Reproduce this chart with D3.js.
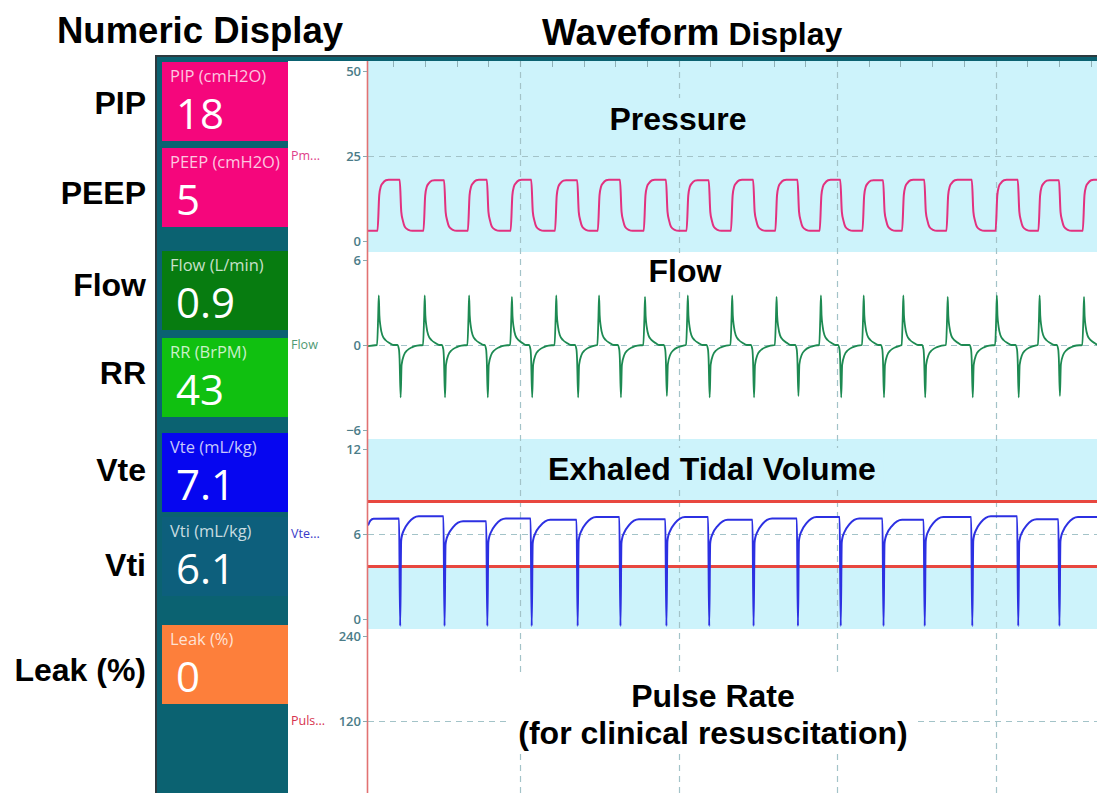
<!DOCTYPE html>
<html><head><meta charset="utf-8">
<script src="https://cdn.jsdelivr.net/npm/d3@7"></script>
<style>
body{margin:0;background:#fff;}
svg{display:block;}
</style>
</head><body>
<svg id="c" width="1097" height="793"></svg>
<script>
// ---------------- DATA ----------------
const sideLabels   = ["PIP","PEEP","Flow","RR","Vte","Vti","Leak (%)"];
const numericNames = ["PIP (cmH2O)","PEEP (cmH2O)","Flow (L/min)","RR (BrPM)","Vte (mL/kg)","Vti (mL/kg)","Leak (%)"];
const numericValues= ["18","5","0.9","43","7.1","6.1","0"];
const numericColors= ["#f5067c","#f5067c","#077c10","#10c010","#0606f0","#0d5f7c","#fd7f3b"];

const trackNames   = ["Pm...","Flow","Vte...","Puls..."];
const trackNameColors = ["#e0408a","#4f9a74","#3a3ac8","#d6334e"];
const trackTitles  = [["Pressure"],["Flow"],["Exhaled Tidal Volume"],["Pulse Rate","(for clinical resuscitation)"]];

const pressureTicks = [0,25,50];
const flowTicks     = [-6,0,6];
const volumeTicks   = [0,6,12];
const pulseTicks    = [120,240];
const gridValues    = [25,0,6,120];        // dashed horizontal reference per track

const timeMajorTicks = [1,2,3,4];           // seconds (dashed verticals)
const timeMinorTicks = [0.2,0.4,0.6,0.8,1.0,1.2,1.4,1.6,1.8,2.0,2.2,2.4,2.6,2.8,3.0,3.2,3.4,3.6,3.8,4.0,4.2,4.4,4.6];

// breath timing (seconds)
const inspStart = [0.10,0.39,0.67,0.94,1.22,1.49,1.78,2.05,2.33,2.61,2.89,3.16,3.41,3.69,4.00,4.27,4.55];
const expStart  = [0.24,0.52,0.79,1.07,1.36,1.63,1.92,2.19,2.47,2.75,3.02,3.29,3.55,3.85,4.14,4.40];

// pressure (cmH2O)
const peepBase  = 3;
const pipPeaks  = [18,17.9,18,18,17.9,18,18,17.9,18,18,18,17.9,18,18,18,17.9,18];
const pressureRise = [[0,0],[0.011,0.70],[0.021,0.87],[0.032,0.93],[0.053,0.99],[0.07,1]];
const pressureFall = [[0,1],[0.010,0.37],[0.020,0.20],[0.032,0.08],[0.055,0.02],[0.08,0]];

// flow (L/min)
const flowInspPeaks = [3.5,3.5,3.5,3.4,3.5,3.5,3.4,3.5,3.5,3.4,3.5,3.5,3.5,3.4,3.5,3.5,3.4];
const flowExpPeaks  = [-3.7,-3.7,-3.7,-3.7,-3.7,-3.7,-3.6,-3.7,-3.7,-3.6,-3.7,-3.7,-3.7,-3.7,-3.7,-3.6];
const flowInspShape = [[-0.003,0],[0.004,0.55],[0.008,1],[0.012,0.6],[0.019,0.37],[0.03,0.2],[0.05,0.1],[0.075,0.04],[0.1,0]];
const flowExpShape  = [[-0.015,0],[-0.005,0.08],[-0.001,0.25],[0.006,1],[0.012,0.38],[0.027,0.19],[0.048,0.1],[0.08,0.04],[0.11,0.01]];

// exhaled tidal volume (mL/kg)
const vtePlateaus = [7.1,7.25,6.9,7.1,7.0,7.2,7.05,7.2,7.0,7.1,7.2,7.1,7.0,7.2,7.25,7.05,7.2];
const vteTrough   = -0.5;
const vteRecovery = [[0.009,0.76],[0.014,0.81],[0.025,0.86],[0.057,0.94],[0.088,0.985],[0.12,1]];
const vteLeadIn   = [[0.04,6.6],[0.055,6.95],[0.075,7.08]];
const vteAlarmLimits = [3.7,8.3];

(function(){
// ---------------- LAYOUT ----------------
const W = 1097, H = 793;
const plotL = 368, plotR = 1097, topY = 61;
const trackRanges = [[241,71],[430,260],[619,449],[806,636]];
const bandBounds = [[61,252],[252,439],[439,629],[629,793]];
const bandCyan = "#cdf3fb";
const boxTops = [62,148,251,338,433,517,625];
const boxH = 79;

const svg = d3.select("#c");
const sans = "'Liberation Sans', Arial, Helvetica, sans-serif";
const ui = "'Open Sans', 'Noto Sans', sans-serif";

// monitor frame
svg.append("rect").attr("x",155).attr("y",55).attr("width",W-155).attr("height",H-55).attr("fill","#2c3a3f");
svg.append("rect").attr("x",157).attr("y",57).attr("width",W-157).attr("height",H-57).attr("fill","#0b6271");

// numeric boxes
const boxes = svg.append("g");
numericNames.forEach((nm,i)=>{
  const g = boxes.append("g").attr("transform",`translate(162,${boxTops[i]})`);
  g.append("rect").attr("width",126).attr("height",boxH).attr("fill",numericColors[i]);
  g.append("text").attr("x",8).attr("y",20).attr("font-family",ui).attr("font-size",16.5)
    .attr("fill","#ffffff").attr("fill-opacity",0.78).text(nm);
  g.append("text").attr("x",14).attr("y",67).attr("font-family",ui).attr("font-size",42)
    .attr("fill","#ffffff").text(numericValues[i]);
});

// white waveform area
svg.append("rect").attr("x",288).attr("y",topY).attr("width",W-288).attr("height",H-topY).attr("fill","#ffffff");
svg.append("rect").attr("x",plotL).attr("y",bandBounds[0][0]).attr("width",plotR-plotL).attr("height",bandBounds[0][1]-bandBounds[0][0]).attr("fill",bandCyan);
svg.append("rect").attr("x",plotL).attr("y",bandBounds[2][0]).attr("width",plotR-plotL).attr("height",bandBounds[2][1]-bandBounds[2][0]).attr("fill",bandCyan);

// scales
const x = d3.scaleLinear().domain([0.04,4.64]).range([plotL,plotR]);
const yP = d3.scaleLinear().domain([0,50]).range(trackRanges[0]);
const yF = d3.scaleLinear().domain([-6,6]).range(trackRanges[1]);
const yV = d3.scaleLinear().domain([0,12]).range(trackRanges[2]);
const yR = d3.scaleLinear().domain([0,240]).range(trackRanges[3]);
const yScales = [yP,yF,yV,yR];
const tickSets = [pressureTicks,flowTicks,volumeTicks,pulseTicks];

svg.append("rect").attr("x",plotL).attr("y",yV(vteAlarmLimits[1]))
  .attr("width",plotR-plotL).attr("height",yV(vteAlarmLimits[0])-yV(vteAlarmLimits[1])).attr("fill","#ffffff");

// grid
const grid = svg.append("g").attr("stroke","#a3c3c8").attr("stroke-width",1.2).attr("stroke-dasharray","6,5");
gridValues.forEach((v,i)=>{
  const y = Math.round(yScales[i](v))+0.5;
  grid.append("line").attr("x1",plotL).attr("x2",plotR).attr("y1",y).attr("y2",y);
});
timeMajorTicks.forEach(t=>{
  const xx = Math.round(x(t))+0.5;
  grid.append("line").attr("x1",xx).attr("x2",xx).attr("y1",topY).attr("y2",H);
});
const minor = svg.append("g").attr("stroke","#8fb0b6").attr("stroke-width",1);
timeMinorTicks.forEach(t=>{
  const xx = Math.round(x(t))+0.5;
  minor.append("line").attr("x1",xx).attr("x2",xx).attr("y1",topY).attr("y2",topY+6);
});

vteAlarmLimits.forEach(v=>{
  svg.append("line").attr("x1",plotL).attr("x2",plotR).attr("y1",yV(v)).attr("y2",yV(v))
    .attr("stroke","#e8473f").attr("stroke-width",3);
});

function buildPressure(){
  const pts=[[0.0,peepBase]];
  inspStart.forEach((tr,i)=>{
    const Hh=pipPeaks[i], B=peepBase;
    pressureRise.forEach(([dt,f])=>pts.push([tr+dt,B+f*(Hh-B)]));
    if(expStart[i]!==undefined) pressureFall.forEach(([dt,f])=>pts.push([expStart[i]+dt,B+f*(Hh-B)]));
    else pts.push([4.7,Hh]);
  });
  return pts;
}
function buildFlow(){
  const pts=[[0.0,-0.1]];
  inspStart.forEach((tr,i)=>{
    flowInspShape.forEach(([dt,f])=>pts.push([tr+dt,f*flowInspPeaks[i]]));
    if(expStart[i]!==undefined) flowExpShape.forEach(([dt,f])=>pts.push([expStart[i]+dt,f*flowExpPeaks[i]]));
  });
  pts.push([4.7,0]);
  return pts;
}
function buildVolume(){
  const pts=vteLeadIn.map(d=>d.slice());
  expStart.forEach((tf,i)=>{
    pts.push([tf-0.004,vtePlateaus[i]]);
    pts.push([tf+0.003,vteTrough]);
    vteRecovery.forEach(([dt,f])=>pts.push([tf+dt,f*vtePlateaus[i+1]]));
  });
  pts.push([4.7,vtePlateaus[vtePlateaus.length-1]]);
  return pts;
}

const defs = svg.append("defs");
defs.append("clipPath").attr("id","clipPlot").append("rect")
  .attr("x",plotL).attr("y",topY).attr("width",plotR-plotL).attr("height",H-topY);

const wave = svg.append("g").attr("clip-path","url(#clipPlot)").attr("fill","none").attr("stroke-linejoin","round");
const lineGen = ys => d3.line().x(d=>x(d[0])).y(d=>ys(d[1])).curve(d3.curveMonotoneX);
wave.append("path").datum(buildPressure()).attr("d",lineGen(yP)).attr("stroke","#e2317f").attr("stroke-width",2);
wave.append("path").datum(buildFlow()).attr("d",lineGen(yF)).attr("stroke","#1d8a52").attr("stroke-width",1.8);
wave.append("path").datum(buildVolume()).attr("d",lineGen(yV)).attr("stroke","#2c30e2").attr("stroke-width",2);

svg.append("line").attr("x1",plotL-0.5).attr("x2",plotL-0.5).attr("y1",topY).attr("y2",H)
  .attr("stroke","#e27272").attr("stroke-width",1.6);

yScales.forEach((ys,i)=>{
  const g = svg.append("g").attr("transform",`translate(${plotL-1},0)`)
    .call(d3.axisLeft(ys).tickValues(tickSets[i]).tickSize(4).tickPadding(2).tickFormat(d3.format("d")));
  g.attr("font-size",null).attr("font-family",null);
  g.select(".domain").remove();
  g.selectAll(".tick line").attr("stroke","#8aa9ae");
  g.selectAll(".tick text").attr("fill","#4b7c88").style("font-family",ui).style("font-weight","600").style("font-size","13px");
});

trackNames.forEach((t,i)=>{
  svg.append("text").attr("x",291).attr("y",yScales[i](gridValues[i])+4)
    .style("font-family",ui).style("font-size","12.5px").attr("fill",trackNameColors[i]).text(t);
});

const titleCenters = [[678,130],[685,282],[712,480],[713,707]];
const titleBgs = [bandCyan,"#ffffff",bandCyan,"#ffffff"];
trackTitles.forEach((lines,i)=>{
  const g = svg.append("g");
  const bg = g.append("rect").attr("fill",titleBgs[i]);
  const txt = g.append("g");
  lines.forEach((l,j)=>{
    txt.append("text").attr("x",titleCenters[i][0]).attr("y",titleCenters[i][1]+j*37)
      .attr("text-anchor","middle").attr("font-family",sans).attr("font-weight","bold")
      .attr("font-size",32).attr("fill","#000").text(l);
  });
  const bb = txt.node().getBBox();
  const y0 = Math.max(bb.y-3, bandBounds[i][0]+1), y1 = Math.min(bb.y+bb.height, bandBounds[i][1]-1);
  bg.attr("x",bb.x-8).attr("y",y0).attr("width",bb.width+16).attr("height",y1-y0);
});

const sideY = [114,204,296,384,481,576,681];
sideLabels.forEach((l,i)=>{
  svg.append("text").attr("x",146).attr("y",sideY[i]).attr("text-anchor","end")
    .attr("font-family",sans).attr("font-weight","bold").attr("font-size",32).attr("fill","#000").text(l);
});

svg.append("text").attr("x",200).attr("y",43).attr("text-anchor","middle")
  .attr("font-family",sans).attr("font-weight","bold").attr("font-size",36.5).text("Numeric Display");
const hd = svg.append("text").attr("x",542).attr("y",45).attr("font-family",sans).attr("font-weight","bold");
hd.append("tspan").attr("font-size",37).text("Waveform");
hd.append("tspan").attr("font-size",32).text(" Display");
})();
</script>
</body></html>
